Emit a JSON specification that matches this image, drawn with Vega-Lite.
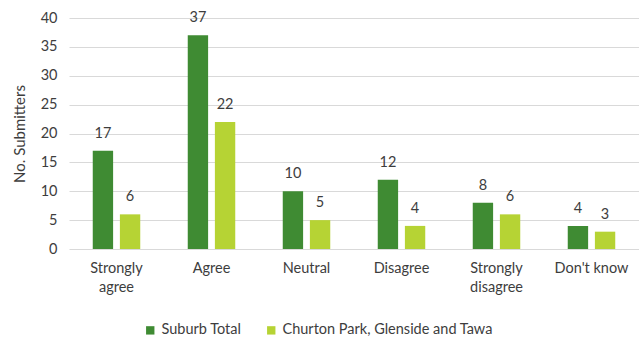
{
  "$schema": "https://vega.github.io/schema/vega-lite/v6.json",
  "width": 570,
  "height": 231,
  "autosize": {"type": "none"},
  "padding": {"left": 69, "top": 18, "right": 0, "bottom": 89},
  "background": "white",
  "config": {
    "font": "Lato",
    "view": {"stroke": null},
    "axis": {"labelColor": "#3d3d3d", "titleColor": "#3d3d3d", "labelFont": "Lato", "titleFont": "Lato"}
  },
  "data": {
    "values": [
      {"category": "Strongly agree", "series": "Suburb Total", "value": 17},
      {"category": "Strongly agree", "series": "Churton Park, Glenside and Tawa", "value": 6},
      {"category": "Agree", "series": "Suburb Total", "value": 37},
      {"category": "Agree", "series": "Churton Park, Glenside and Tawa", "value": 22},
      {"category": "Neutral", "series": "Suburb Total", "value": 10},
      {"category": "Neutral", "series": "Churton Park, Glenside and Tawa", "value": 5},
      {"category": "Disagree", "series": "Suburb Total", "value": 12},
      {"category": "Disagree", "series": "Churton Park, Glenside and Tawa", "value": 4},
      {"category": "Strongly disagree", "series": "Suburb Total", "value": 8},
      {"category": "Strongly disagree", "series": "Churton Park, Glenside and Tawa", "value": 6},
      {"category": "Don't know", "series": "Suburb Total", "value": 4},
      {"category": "Don't know", "series": "Churton Park, Glenside and Tawa", "value": 3}
    ]
  },
  "encoding": {
    "x": {
      "field": "category",
      "type": "nominal",
      "sort": ["Strongly agree", "Agree", "Neutral", "Disagree", "Strongly disagree", "Don't know"],
      "scale": {"paddingInner": 0.5, "paddingOuter": 0.25},
      "axis": {
        "title": null,
        "labelAngle": 0,
        "ticks": false,
        "domain": false,
        "labelFontSize": 14.5,
        "labelPadding": 12,
        "labelLineHeight": 19,
        "labelExpr": "datum.label == 'Strongly agree' ? ['Strongly', 'agree'] : datum.label == 'Strongly disagree' ? ['Strongly', 'disagree'] : datum.label"
      }
    },
    "xOffset": {
      "field": "series",
      "type": "nominal",
      "sort": ["Suburb Total", "Churton Park, Glenside and Tawa"],
      "scale": {"paddingInner": 0.25}
    },
    "y": {
      "field": "value",
      "type": "quantitative",
      "scale": {"domain": [0, 40]},
      "axis": {
        "title": "No. Submitters",
        "titleFontSize": 15,
        "titleFontWeight": "normal",
        "titlePadding": 13,
        "values": [0, 5, 10, 15, 20, 25, 30, 35, 40],
        "ticks": false,
        "domain": false,
        "labelFontSize": 14.5,
        "labelPadding": 12,
        "gridColor": "#d9d9d9",
        "gridWidth": 1
      }
    }
  },
  "layer": [
    {
      "mark": {"type": "bar"},
      "encoding": {
        "color": {
          "field": "series",
          "type": "nominal",
          "sort": ["Suburb Total", "Churton Park, Glenside and Tawa"],
          "scale": {"domain": ["Suburb Total", "Churton Park, Glenside and Tawa"], "range": ["#3f8b33", "#b6d334"]},
          "legend": {
            "title": null,
            "orient": "none",
            "legendX": 74,
            "legendY": 305,
            "direction": "horizontal",
            "symbolType": "square",
            "symbolSize": 70,
            "labelFontSize": 14.5,
            "labelColor": "#3d3d3d",
            "labelFont": "Lato",
            "labelLimit": 400,
            "columnPadding": 22,
            "symbolOffset": 0
          }
        }
      }
    },
    {
      "mark": {"type": "text", "dy": -17, "fontSize": 14.5, "color": "#3d3d3d", "font": "Lato"},
      "encoding": {"text": {"field": "value", "type": "quantitative"}}
    }
  ]
}
